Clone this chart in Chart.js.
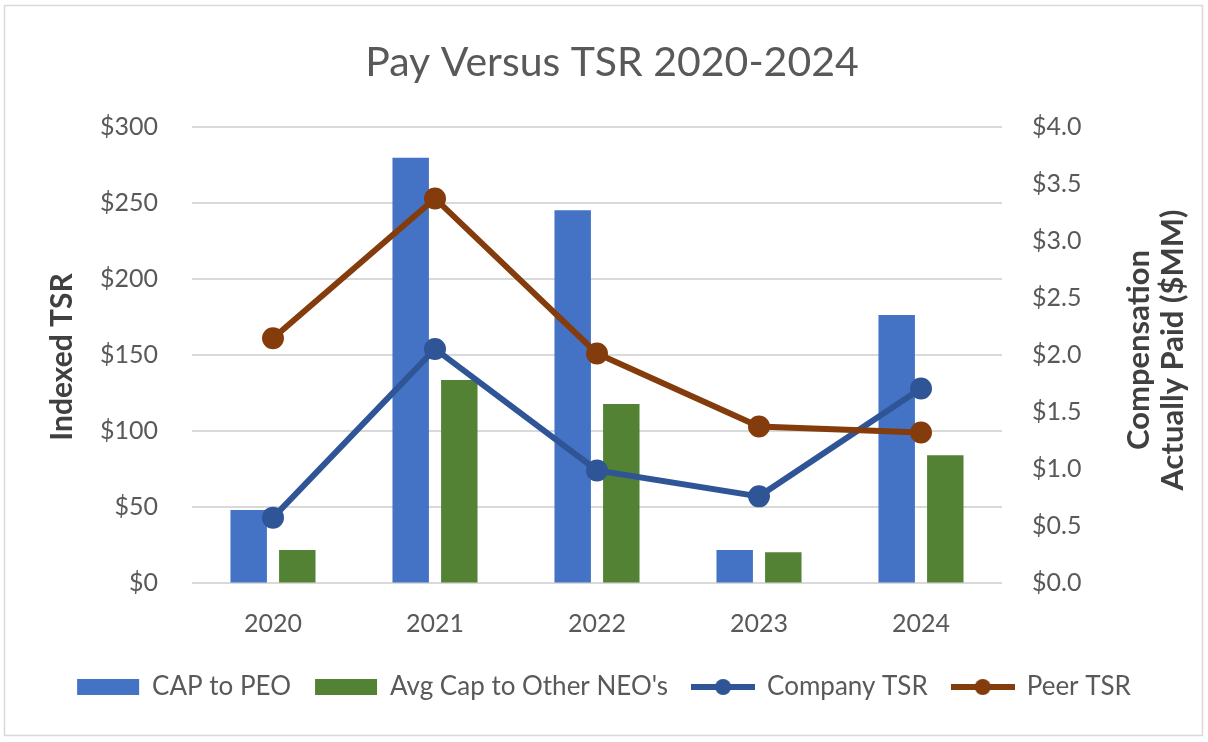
<!DOCTYPE html>
<html>
<head>
<meta charset="utf-8">
<script src="https://cdn.jsdelivr.net/npm/chart.js@4.4.1/dist/chart.umd.min.js"></script>
<style>
  html, body { margin: 0; padding: 0; background: #fff; }
  #wrap { width: 1208px; height: 742px; position: relative; }
</style>
</head>
<body>
<div id="wrap"><canvas id="payChart" width="1208" height="742"></canvas></div>
<script>
var years = ["2020", "2021", "2022", "2023", "2024"]
var capPeo = [0.64, 3.73, 3.27, 0.29, 2.35]
var capOther = [0.29, 1.78, 1.57, 0.27, 1.12]
var companyTsr = [43, 154, 74, 57, 128]
var peerTsr = [161, 253, 151, 103, 99]

var FONT = "Lato, 'Open Sans', sans-serif"
var GREY = "#595959"

// legend swatches drawn on little canvases
function swatch(kind, color) {
    var c = document.createElement('canvas')
    c.width = 64
    c.height = 20
    var g = c.getContext('2d')
    g.fillStyle = color
    g.strokeStyle = color
    if (kind == 'bar') {
        g.fillRect(1, 2, 62, 16)
    } else {
        g.lineWidth = 6
        g.beginPath()
        g.moveTo(0, 10)
        g.lineTo(64, 10)
        g.stroke()
        g.beginPath()
        g.arc(32, 10, 8, 0, Math.PI * 2)
        g.fill()
    }
    return c
}

var extras = {
    id: 'extras',
    beforeDraw: function(chart) {
        var ctx = chart.ctx
        ctx.save()
        ctx.strokeStyle = "#d9d9d9"
        ctx.lineWidth = 1.5
        ctx.strokeRect(4.5, 5.5, 1198, 730)
        ctx.restore()
    },
    afterDraw: function(chart) {
        var ctx = chart.ctx
        var area = chart.chartArea
        var mid = (area.top + area.bottom) / 2
        ctx.save()
        ctx.fillStyle = GREY
        ctx.textAlign = 'center'
        ctx.textBaseline = 'middle'
        ctx.font = "41px " + FONT
        ctx.fillText("Pay Versus TSR 2020-2024", 612, 63)

        ctx.fillStyle = "#404040"
        ctx.font = "bold 30px " + FONT
        ctx.save()
        ctx.translate(62, mid + 2)
        ctx.rotate(-Math.PI / 2)
        ctx.fillText("Indexed TSR", 0, 0)
        ctx.restore()

        ctx.font = "bold 31px " + FONT
        ctx.save()
        ctx.translate(1156, mid - 5)
        ctx.rotate(-Math.PI / 2)
        ctx.fillText("Compensation", 0, -17)
        ctx.fillText("Actually Paid ($MM)", 0, 17)
        ctx.restore()
        ctx.restore()
    }
}

var ctx = document.getElementById("payChart").getContext('2d')
var chart = new Chart(ctx, {
    data: {
        labels: years,
        datasets: [
            {
                type: 'bar',
                label: "CAP to PEO",
                data: capPeo,
                yAxisID: 'yR',
                backgroundColor: "#4472C4",
                categoryPercentage: 0.6,
                barPercentage: 0.75,
                order: 2
            },
            {
                type: 'bar',
                label: "Avg Cap to Other NEO's",
                data: capOther,
                yAxisID: 'yR',
                backgroundColor: "#548235",
                categoryPercentage: 0.6,
                barPercentage: 0.75,
                order: 2
            },
            {
                type: 'line',
                label: "Company TSR",
                data: companyTsr,
                yAxisID: 'y',
                borderColor: "#2F5597",
                backgroundColor: "#2F5597",
                borderWidth: 6,
                pointRadius: 8,
                pointHoverRadius: 8,
                tension: 0,
                order: 1
            },
            {
                type: 'line',
                label: "Peer TSR",
                data: peerTsr,
                yAxisID: 'y',
                borderColor: "#843C0C",
                backgroundColor: "#843C0C",
                borderWidth: 6,
                pointRadius: 8,
                pointHoverRadius: 8,
                tension: 0,
                order: 0
            }
        ]
    },
    options: {
        responsive: false,
        animation: false,
        layout: { padding: { top: 127, bottom: 32, left: 0, right: 0 } },
        plugins: {
            tooltip: { enabled: false },
            legend: {
                position: 'bottom',
                labels: {
                    usePointStyle: true,
                    pointStyleWidth: 62,
                    boxHeight: 20,
                    padding: 24,
                    color: GREY,
                    font: { family: FONT, size: 26 },
                    sort: function(a, b) { return a.datasetIndex - b.datasetIndex },
                    generateLabels: function(ch) {
                        var items = Chart.defaults.plugins.legend.labels.generateLabels(ch)
                        items.forEach(function(it) {
                            var ds = ch.data.datasets[it.datasetIndex]
                            if (ds.type == 'bar') it.pointStyle = swatch('bar', ds.backgroundColor)
                            else it.pointStyle = swatch('line', ds.borderColor)
                        })
                        return items
                    }
                }
            }
        },
        scales: {
            x: {
                grid: { display: false },
                border: { display: false },
                ticks: { color: GREY, padding: 18, font: { family: FONT, size: 25 } },
                afterFit: function(s) { s.height = 67 }
            },
            y: {
                position: 'left',
                min: 0,
                max: 300,
                ticks: {
                    stepSize: 50,
                    color: GREY,
                    padding: 34,
                    font: { family: FONT, size: 25 },
                    callback: function(v) { return '$' + v }
                },
                grid: { color: "#d9d9d9", lineWidth: 2, drawTicks: false },
                border: { display: false },
                afterFit: function(s) { s.width = 192 }
            },
            yR: {
                position: 'right',
                min: 0,
                max: 4,
                ticks: {
                    stepSize: 0.5,
                    color: GREY,
                    padding: 30,
                    font: { family: FONT, size: 25 },
                    callback: function(v) { return '$' + v.toFixed(1) }
                },
                grid: { drawOnChartArea: false, drawTicks: false },
                border: { display: false },
                afterFit: function(s) { s.width = 206 }
            }
        }
    },
    plugins: [extras]
})
</script>
</body>
</html>
